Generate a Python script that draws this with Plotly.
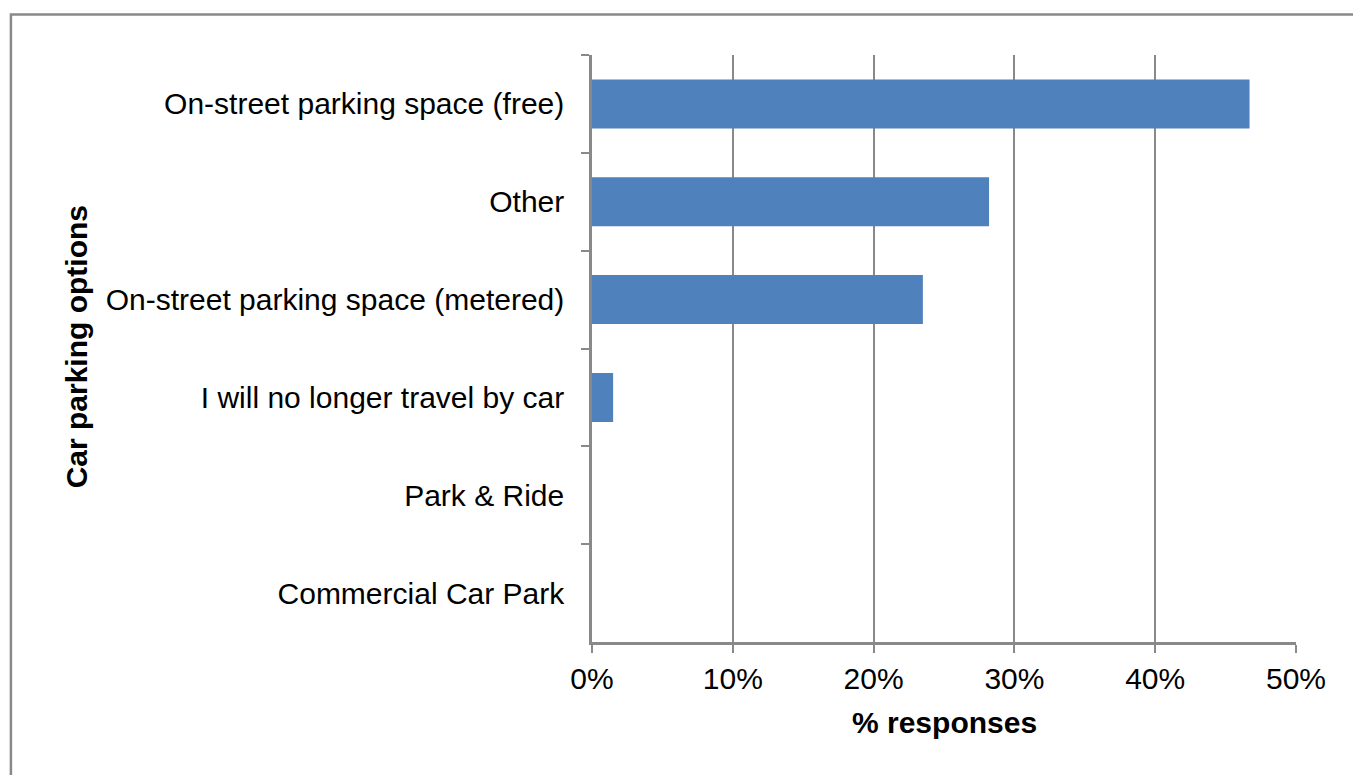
import plotly.graph_objects as go

categories = [
    "On-street parking space (free)",
    "Other",
    "On-street parking space (metered)",
    "I will no longer travel by car",
    "Park & Ride",
    "Commercial Car Park",
]
values = [46.7, 28.2, 23.5, 1.5, 0.0, 0.0]
x_ticks = [0, 10, 20, 30, 40, 50]
x_tick_labels = ["0%", "10%", "20%", "30%", "40%", "50%"]

W, H = 1353, 775
L, R, T, B = 592, 56.5, 55, 133
pw, ph = W - L - R, H - T - B

def px_x(p):
    return (p - L) / pw

def px_y(p):
    return (H - B - p) / ph

FONT = "Liberation Sans, Arial, sans-serif"
GRAY = "#898989"
FS = 30

fig = go.Figure(go.Bar(
    x=values, y=categories, orientation="h",
    marker=dict(color="#4F81BD", line=dict(width=0)),
))

fig.update_layout(
    width=W, height=H,
    margin=dict(l=L, r=R, t=T, b=B, autoexpand=False),
    paper_bgcolor="white", plot_bgcolor="white",
    bargap=0.5, showlegend=False,
    font=dict(family=FONT, size=FS, color="black"),
    xaxis=dict(
        range=[0, 50], tickvals=x_ticks, ticktext=x_tick_labels,
        showgrid=True, gridcolor=GRAY, gridwidth=2,
        showline=True, linecolor=GRAY, linewidth=2.5,
        ticks="outside", ticklen=8, tickwidth=2, tickcolor=GRAY,
        ticklabelstandoff=0, zeroline=False, fixedrange=True,
        tickfont=dict(size=FS, family=FONT, color="black"),
    ),
    yaxis=dict(
        type="category", categoryorder="array", categoryarray=categories,
        autorange="reversed",
        showgrid=False, showline=True, linecolor=GRAY, linewidth=2.5,
        ticks="outside", tickson="boundaries", ticklen=8, tickwidth=2, tickcolor=GRAY,
        ticklabelstandoff=19, fixedrange=True,
        tickfont=dict(size=FS, family=FONT, color="black"),
    ),
    annotations=[
        dict(text="<b>% responses</b>", xref="paper", yref="paper",
             x=0.5, y=px_y(722), xanchor="center", yanchor="middle",
             showarrow=False, font=dict(size=FS, family=FONT, color="black")),
        dict(text="<b>Car parking options</b>", xref="paper", yref="paper",
             x=px_x(76), y=px_y(347), xanchor="center", yanchor="middle",
             textangle=-90, showarrow=False,
             font=dict(size=FS, family=FONT, color="black")),
    ],
    shapes=[
        dict(type="rect", xref="paper", yref="paper",
             x0=px_x(10.5), y0=px_y(H + 20), x1=px_x(W + 20), y1=px_y(14.5),
             line=dict(color=GRAY, width=2.5), fillcolor="rgba(0,0,0,0)", layer="below"),
    ],
)

fig.write_html("out.html", config={"displayModeBar": False},
               post_script="document.body.style.margin='0';")
